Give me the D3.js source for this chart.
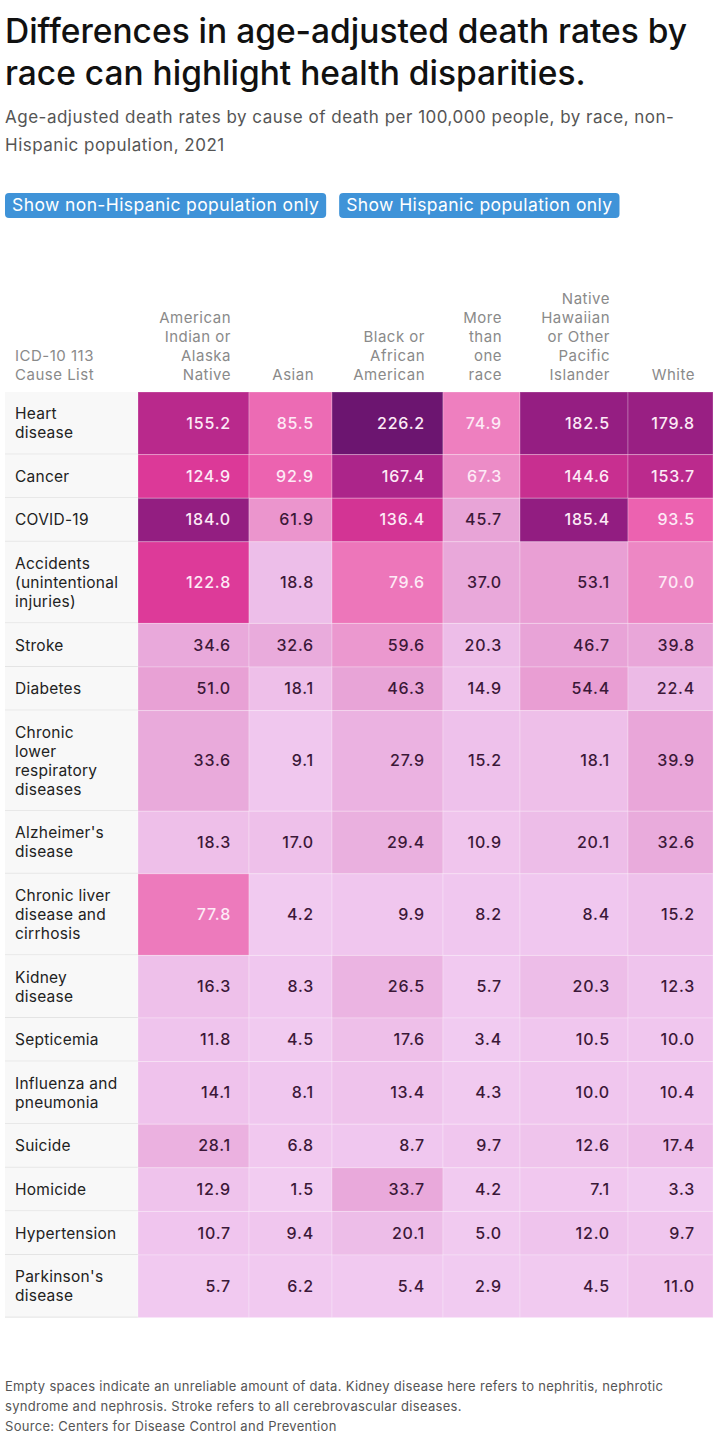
<!DOCTYPE html>
<html>
<head>
<meta charset="utf-8">
<script src="https://cdn.jsdelivr.net/npm/d3@7"></script>
<style>
  body { margin: 0; background: #fff; }
  svg text { font-family: Inter, "Noto Sans", sans-serif; }
</style>
</head>
<body>
<div id="chart"></div>
<script>
//////////////////////////////////////////////////////////////////////////////
// Data

var races = [
    "American|Indian or|Alaska|Native",
    "Asian",
    "Black or|African|American",
    "More|than|one|race",
    "Native|Hawaiian|or Other|Pacific|Islander",
    "White"
];

var causes = [
    "Heart|disease",
    "Cancer",
    "COVID-19",
    "Accidents|(unintentional|injuries)",
    "Stroke",
    "Diabetes",
    "Chronic|lower|respiratory|diseases",
    "Alzheimer's|disease",
    "Chronic liver|disease and|cirrhosis",
    "Kidney|disease",
    "Septicemia",
    "Influenza and|pneumonia",
    "Suicide",
    "Homicide",
    "Hypertension",
    "Parkinson's|disease"
];

// one array per race column, in cause order
var aian     = [155.2, 124.9, 184.0, 122.8, 34.6, 51.0, 33.6, 18.3, 77.8, 16.3, 11.8, 14.1, 28.1, 12.9, 10.7, 5.7];
var asian    = [ 85.5,  92.9,  61.9,  18.8, 32.6, 18.1,  9.1, 17.0,  4.2,  8.3,  4.5,  8.1,  6.8,  1.5,  9.4, 6.2];
var black    = [226.2, 167.4, 136.4,  79.6, 59.6, 46.3, 27.9, 29.4,  9.9, 26.5, 17.6, 13.4,  8.7, 33.7, 20.1, 5.4];
var multi    = [ 74.9,  67.3,  45.7,  37.0, 20.3, 14.9, 15.2, 10.9,  8.2,  5.7,  3.4,  4.3,  9.7,  4.2,  5.0, 2.9];
var nhpi     = [182.5, 144.6, 185.4,  53.1, 46.7, 54.4, 18.1, 20.1,  8.4, 20.3, 10.5, 10.0, 12.6,  7.1, 12.0, 4.5];
var white    = [179.8, 153.7,  93.5,  70.0, 39.8, 22.4, 39.9, 32.6, 15.2, 12.3, 10.0, 10.4, 17.4,  3.3,  9.7, 11.0];

var series = [aian, asian, black, multi, nhpi, white];

var title = ["Differences in age-adjusted death rates by",
             "race can highlight health disparities."];
var subtitle = ["Age-adjusted death rates by cause of death per 100,000 people, by race, non-",
                "Hispanic population, 2021"];
var buttons = ["Show non-Hispanic population only", "Show Hispanic population only"];
var notes = ["Empty spaces indicate an unreliable amount of data. Kidney disease here refers to nephritis, nephrotic",
             "syndrome and nephrosis. Stroke refers to all cerebrovascular diseases.",
             "Source: Centers for Disease Control and Prevention"];

//////////////////////////////////////////////////////////////////////////////
// Layout

var width = 720, height = 1445;
var labelX = 5, tableLeft = 138;
var colWidths = [111, 83, 111, 77, 108, 85];
var headerBottom = 392;
var lineH = 19, rowPad = 24.6;
var cellPadR = 18;

var colX = [];
colWidths.reduce(function(acc, w) { colX.push(acc); return acc + w; }, tableLeft);

var rows = [];
causes.reduce(function(acc, c, i) {
    var lines = c.split("|");
    var h = lines.length * lineH + rowPad;
    rows.push({ cause: c, lines: lines, y: acc, h: h, i: i });
    return acc + h;
}, headerBottom);

var color = d3.scaleLinear()
    .domain([0, 10, 20, 34, 50, 60, 75, 85, 93, 123, 136, 155, 170, 182, 226])
    .range(["#f2cdf2", "#f0c6ee", "#edbde8", "#e9a9db", "#e8a2d6", "#eb98cf", "#ee7fbf",
            "#ec6cb4", "#ec63b0", "#dd3a99", "#d43494", "#b9298c", "#a92489", "#951e82", "#6c1570"])
    .interpolate(d3.interpolateRgb)
    .clamp(true);

//////////////////////////////////////////////////////////////////////////////

var svg = d3.select("#chart").append("svg")
    .attr("width", width)
    .attr("height", height);

// title
svg.append("g").selectAll("text")
    .data(title).enter().append("text")
    .attr("x", labelX)
    .attr("y", function(d, i) { return 43 + i * 42; })
    .attr("font-size", 33.5)
    .attr("font-weight", 500)
    .attr("fill", "#111")
    .text(function(d) { return d; });

svg.append("g").selectAll("text")
    .data(subtitle).enter().append("text")
    .attr("x", labelX)
    .attr("y", function(d, i) { return 123 + i * 28; })
    .attr("font-size", 17)
    .attr("fill", "#555")
    .attr("letter-spacing", "0.5")
    .text(function(d) { return d; });

// buttons
var btnX = 5;
buttons.forEach(function(b) {
    var g = svg.append("g");
    var t = g.append("text")
        .attr("x", btnX + 7)
        .attr("y", 211)
        .attr("font-size", 17.5)
        .attr("fill", "#fff")
        .attr("letter-spacing", "0.4")
        .text(b);
    var w = t.node().getComputedTextLength() + 14;
    g.insert("rect", "text")
        .attr("x", btnX).attr("y", 193)
        .attr("width", w).attr("height", 25)
        .attr("rx", 4)
        .attr("fill", "#3f93d8");
    btnX += w + 13;
});

// header
var header = svg.append("g")
    .attr("font-size", 15)
    .attr("letter-spacing", "0.5")
    .attr("fill", "#8a8a8a");

header.append("g").selectAll("text")
    .data(["ICD-10 113", "Cause List"]).enter().append("text")
    .attr("x", 15)
    .attr("y", function(d, i, a) { return headerBottom - 12 - (a.length - 1 - i) * lineH; })
    .text(function(d) { return d; });

races.forEach(function(r, j) {
    var lines = r.split("|");
    header.append("g").selectAll("text")
        .data(lines).enter().append("text")
        .attr("x", colX[j] + colWidths[j] - cellPadR)
        .attr("y", function(d, i) { return headerBottom - 12 - (lines.length - 1 - i) * lineH; })
        .attr("text-anchor", "end")
        .text(function(d) { return d; });
});

// row label cells
var rowG = svg.append("g").selectAll("g")
    .data(rows).enter().append("g")
    .attr("transform", function(d) { return "translate(0," + d.y + ")"; });

rowG.append("rect")
    .attr("x", labelX)
    .attr("width", tableLeft - labelX)
    .attr("height", function(d) { return d.h; })
    .attr("fill", "#f8f8f8");

rowG.append("line")
    .attr("x1", labelX).attr("x2", tableLeft)
    .attr("y1", function(d) { return d.h - 0.5; })
    .attr("y2", function(d) { return d.h - 0.5; })
    .attr("stroke", "#e4e4e4");

rowG.each(function(d) {
    var g = d3.select(this);
    var top = d.h / 2 - (d.lines.length - 1) * lineH / 2 + 5.5;
    g.selectAll("text.label")
        .data(d.lines).enter().append("text")
        .attr("class", "label")
        .attr("x", 15)
        .attr("y", function(t, i) { return top + i * lineH; })
        .attr("font-size", 15.5)
        .attr("letter-spacing", "0.25")
        .attr("fill", "#222")
        .text(function(t) { return t; });
});

// value cells
rowG.each(function(d) {
    var g = d3.select(this);
    var vals = series.map(function(s) { return s[d.i]; });
    g.selectAll("rect.cell")
        .data(vals).enter().append("rect")
        .attr("class", "cell")
        .attr("x", function(v, j) { return colX[j]; })
        .attr("width", function(v, j) { return colWidths[j]; })
        .attr("height", d.h)
        .attr("fill", function(v) { return color(v); })
        .attr("stroke", "rgba(255,255,255,0.25)")
        .attr("stroke-width", 1);
    g.selectAll("text.val")
        .data(vals).enter().append("text")
        .attr("class", "val")
        .attr("x", function(v, j) { return colX[j] + colWidths[j] - cellPadR; })
        .attr("y", d.h / 2 + 5.5)
        .attr("text-anchor", "end")
        .attr("font-size", 16)
        .attr("font-weight", 500)
        .attr("letter-spacing", "0.8")
        .attr("fill", function(v) { return v >= 65 ? "#fdeaf6" : "#3b1838"; })
        .text(function(v) { return d3.format(".1f")(v); });
});

// footnotes
svg.append("g").selectAll("text")
    .data(notes).enter().append("text")
    .attr("x", labelX)
    .attr("y", function(d, i) { return 1391 + i * 20; })
    .attr("font-size", 13)
    .attr("fill", "#555")
    .attr("letter-spacing", "0.3")
    .text(function(d) { return d; });
</script>
</body>
</html>
